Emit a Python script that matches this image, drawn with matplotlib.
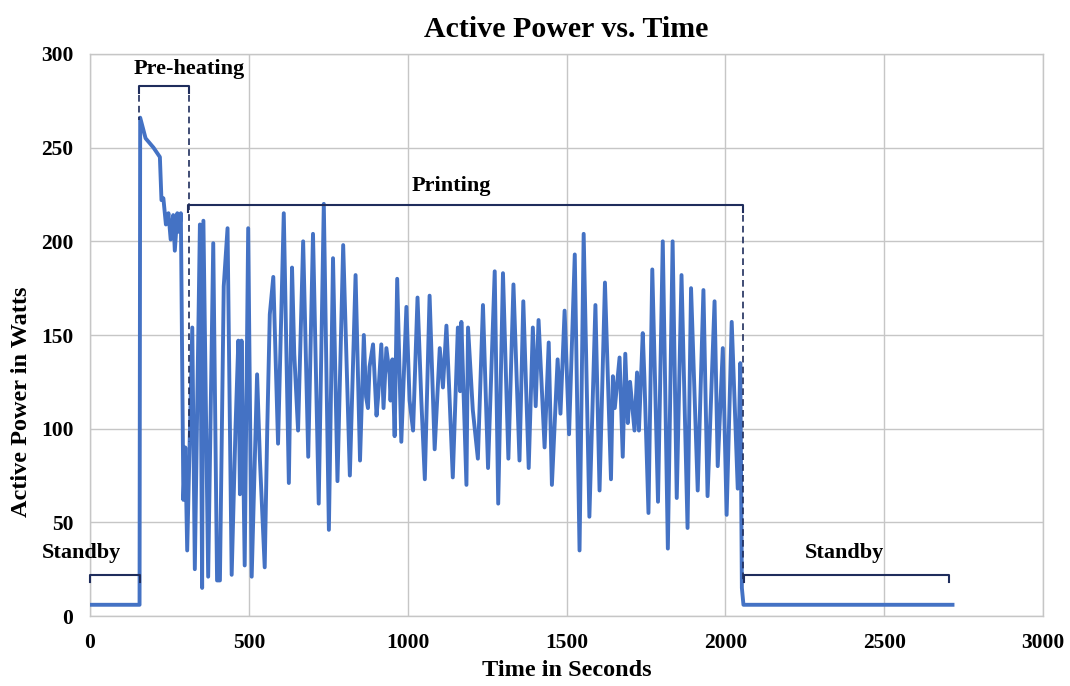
"""Active power vs. time for a 3D-print cycle, with phase brackets."""

import matplotlib.pyplot as plt

time_s = [
    0, 156, 158, 175, 200, 220, 225, 231, 239, 247, 254, 262, 267, 275, 281, 286,
    294, 300, 306, 322, 330, 346, 353, 357, 372, 388, 400, 409, 421, 433, 446,
    458, 467, 472, 477, 487, 498, 509, 526, 535, 550, 558, 566, 577, 592, 610,
    626, 636, 643, 655, 671, 687, 702, 720, 736, 752, 765, 779, 797, 818, 836,
    850, 862, 869, 875, 880, 891, 902, 907, 917, 924, 933, 943, 946, 952, 959,
    967, 980, 996, 1006, 1017, 1031, 1043, 1054, 1069, 1085, 1101, 1111, 1122,
    1131, 1142, 1158, 1165, 1169, 1185, 1190, 1205, 1221, 1237, 1253, 1274, 1285,
    1300, 1317, 1333, 1352, 1364, 1381, 1394, 1403, 1412, 1431, 1444, 1454, 1472,
    1481, 1494, 1508, 1526, 1541, 1554, 1572, 1591, 1604, 1621, 1640, 1646, 1652,
    1667, 1677, 1685, 1693, 1700, 1714, 1722, 1728, 1740, 1745, 1758, 1770, 1788,
    1803, 1819, 1834, 1847, 1862, 1881, 1892, 1913, 1931, 1944, 1966, 1976, 1992,
    2004, 2020, 2039, 2047, 2052, 2057, 2715,
]
power_w = [
    6, 6, 266, 255, 250, 245, 222, 223, 209, 215, 201, 214, 195, 215, 205, 215,
    62, 90, 35, 154, 25, 209, 15, 211, 21, 199, 19, 19, 176, 207, 22,
    100, 147, 65, 147, 27, 207, 21, 129, 83, 26, 100, 161, 181, 92, 215,
    71, 186, 140, 99, 200, 85, 204, 60, 220, 46, 191, 72, 198, 75, 182,
    83, 150, 117, 111, 133, 145, 107, 117, 145, 111, 143, 129, 115, 137, 96,
    180, 93, 165, 115, 99, 170, 115, 73, 171, 89, 143, 122, 155,
    120, 74, 154, 120, 157, 70, 154, 110, 84, 166, 79, 184, 60,
    183, 84, 177, 83, 168, 79, 154, 112, 158, 90, 146, 70, 137,
    108, 163, 97, 193, 35, 204, 53, 166, 67, 178, 73, 128, 111,
    138, 85, 140, 103, 125, 99, 130, 99, 151, 128, 55, 185, 61,
    200, 36, 200, 63, 182, 47, 175, 67, 174, 64, 168, 80, 143,
    54, 157, 68, 135, 15, 6, 6,
]

# phase labels: name, bracket start, bracket end, bracket height, text x, text y
phases = ["Standby", "Pre-heating", "Printing", "Standby"]
phase_start = [0, 155, 309, 2058]
phase_end = [157, 311, 2054, 2704]
phase_level = [22, 283, 219.5, 22]
label_x = [-27, 311, 1138, 2374]
label_y = [33.5, 292, 229.5, 33.5]

# dashed drop lines marking the phase boundaries: x, top, bottom
drop_x = [155, 311, 2054]
drop_top = [278, 278, 214]
drop_bottom = [265, 93, 18]

blue = "#4472C4"
navy = "#1f2d5c"
plt.rcParams["font.family"] = ["Liberation Serif", "DejaVu Serif"]
plt.rcParams["font.weight"] = "bold"

fig = plt.figure(figsize=(10.7, 6.86), dpi=100)
ax = fig.add_axes([0.0841, 0.1020, 0.8907, 0.8193])

ax.plot(time_s, power_w, color=blue, lw=2.8, solid_joinstyle="round", zorder=3)

for name, x0, x1, lvl, tx, ty in zip(phases, phase_start, phase_end, phase_level,
                                     label_x, label_y):
    ax.plot([x0, x0, x1, x1], [lvl - 4, lvl, lvl, lvl - 4], color=navy, lw=1.5,
            zorder=4, clip_on=False)
    ax.text(tx, ty, name, ha="center", va="center", fontsize=16, fontweight="bold",
            clip_on=False)

for x, top, bottom in zip(drop_x, drop_top, drop_bottom):
    ax.plot([x, x], [top, bottom], color=navy, lw=1.2, ls=(0, (4, 2.5)), zorder=4)

ax.set_xlim(0, 3000)
ax.set_ylim(0, 300)
ax.set_xticks(range(0, 3001, 500))
ax.set_yticks(range(0, 301, 50))
ax.grid(True, color="#c6c6c6", lw=1.0)
ax.set_axisbelow(True)
for spine in ax.spines.values():
    spine.set_color("#c6c6c6")
    spine.set_linewidth(1.0)
ax.tick_params(length=0, labelsize=15.5, pad=12)
for lab in ax.get_xticklabels() + ax.get_yticklabels():
    lab.set_fontweight("bold")

ax.set_title("Active Power vs. Time", fontsize=21.5, fontweight="bold", pad=12)
ax.set_xlabel("Time in Seconds", fontsize=17.5, fontweight="bold", labelpad=5)
ax.set_ylabel("Active Power in Watts", fontsize=17.5, fontweight="bold")
ax.yaxis.set_label_coords(-0.061, 0.381)

fig.savefig("out.png", dpi=100)
